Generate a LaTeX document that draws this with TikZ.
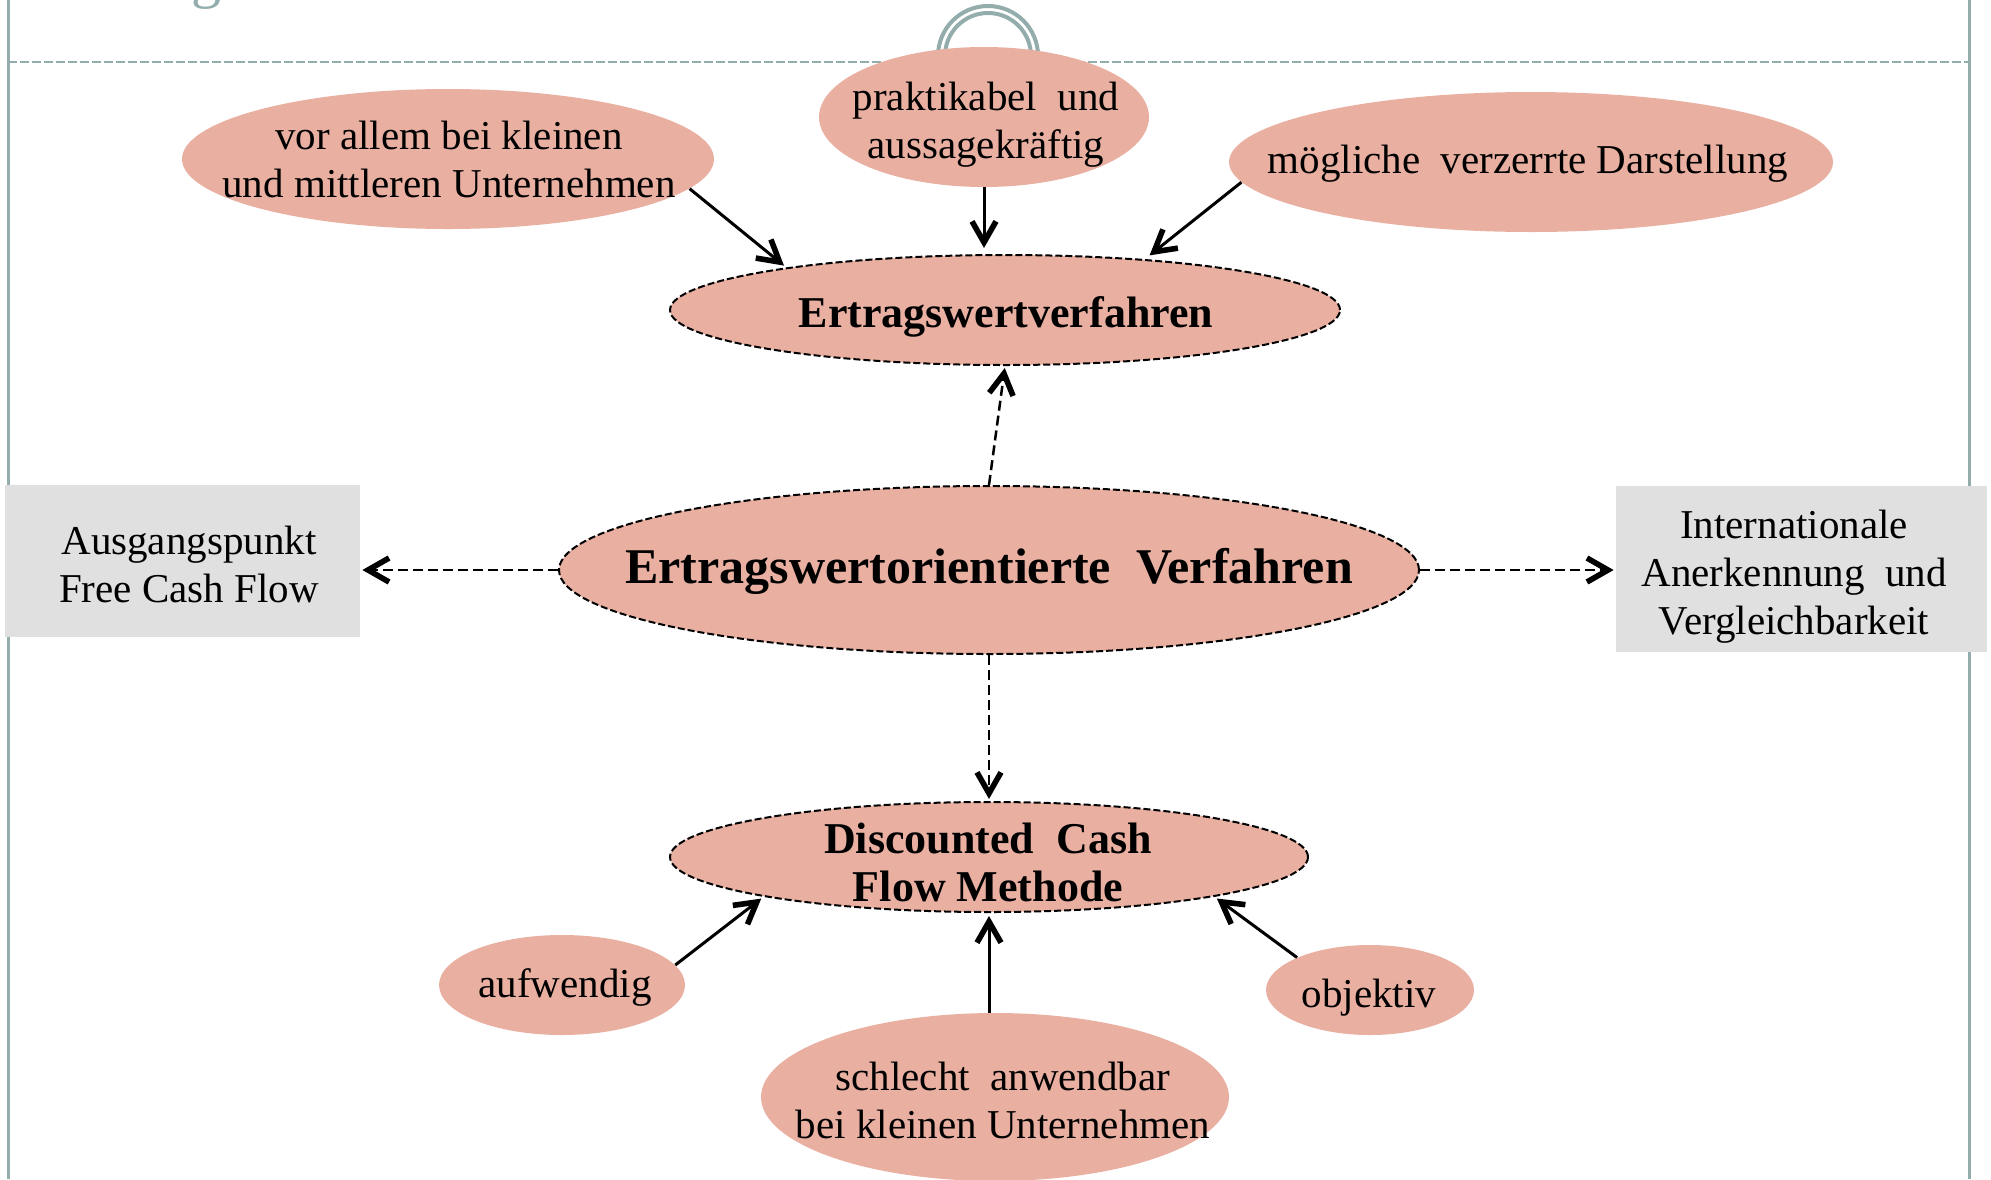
\documentclass[tikz,border=0pt]{standalone}
\usepackage{fontspec}
\setmainfont{Liberation Serif}
\usetikzlibrary{shapes.geometric,arrows.meta}
\definecolor{salmon}{RGB}{233,176,162}
\definecolor{framegrey}{RGB}{147,173,172}
\definecolor{boxgrey}{RGB}{224,224,224}
\newcommand\wsp{\hspace{0.5em}}

\begin{document}
\begin{tikzpicture}[x=0.5pt,y=-0.5pt,
  bubble/.style={ellipse, fill=salmon, inner sep=0pt},
  dashbubble/.style={bubble, draw=black, line width=1pt, dash pattern=on 3.5pt off 1.5pt},
  txt/.style={align=center, inner sep=0pt, font=\fontsize{20.5}{24}\selectfont},
  boldtxt/.style={align=center, inner sep=0pt, font=\bfseries\fontsize{22}{24}\selectfont},
  infobox/.style={rectangle, fill=boxgrey, inner sep=0pt},
  barb/.style={-{Straight Barb[length=10.5pt,width=12pt,line width=2.8pt]}},
  solidarrow/.style={barb, line width=1.5pt, shorten >=1.5pt},
  dasharrow/.style={barb, line width=1.25pt, dash pattern=on 5pt off 2.5pt, shorten >=1pt}
]
\useasboundingbox (0,0) rectangle (1991,1179);

% page frame
\draw[framegrey, line width=1.5pt] (8,0) -- (8,1179);
\draw[framegrey, line width=1.5pt] (1969,0) -- (1969,1179);
\draw[framegrey, line width=1.25pt, dash pattern=on 4.5pt off 1.5pt] (8,62) -- (1969,62);
\node[anchor=base, inner sep=0pt, text=framegrey, font=\fontsize{30}{30}\selectfont] (titleg) at (206,-4) {g};

% ring handle
\draw[framegrey, line width=2pt] (988,56) circle[radius=50];
\draw[framegrey, line width=2pt] (988,56) circle[radius=43];

% top bubbles
\node[bubble, minimum width=266pt, minimum height=70pt] (e1) at (448,159) {};
\node[txt] (e1t) at (449,159) {vor allem bei kleinen\\und mittleren Unternehmen};
\node[bubble, minimum width=165pt, minimum height=70pt] (e2) at (984,117) {};
\node[txt] (e2t) at (986,125) {praktikabel\wsp und\\aussagekräftig};
\node[bubble, minimum width=302pt, minimum height=70pt] (e3) at (1531,162) {};
\node[txt] (e3t) at (1528,164) {mögliche\wsp verzerrte Darstellung};

% main methods
\node[dashbubble, minimum width=335pt, minimum height=55pt] (ew) at (1005,310) {};
\node[boldtxt] (ewt) at (1006,317) {Ertragswertverfahren};
\node[dashbubble, minimum width=430pt, minimum height=84pt] (c) at (989,570) {};
\node[boldtxt, font=\bfseries\fontsize{25}{28}\selectfont] (ct) at (989,571) {Ertragswertorientierte\wsp Verfahren};
\node[dashbubble, minimum width=319pt, minimum height=55pt] (dcf) at (989,857) {};
\node[boldtxt] (dcft) at (988,862) {Discounted\wsp Cash\\Flow Methode};

% side boxes
\node[infobox, minimum width=177.5pt, minimum height=76pt] (lb) at (182.5,561) {};
\node[txt] (lbt) at (189,564) {Ausgangspunkt\\Free Cash Flow};
\node[infobox, minimum width=185.5pt, minimum height=83pt] (rb) at (1801.5,569) {};
\node[txt] (rbt) at (1794,577) {Internationale\\Anerkennung\wsp und\\Vergleichbarkeit};

% bottom bubbles
\node[bubble, minimum width=123pt, minimum height=50pt] (auf) at (562,985) {};
\node[txt] (auft) at (565,987) {aufwendig};
\node[bubble, minimum width=234pt, minimum height=84pt] (sch) at (995,1097) {};
\node[txt] (scht) at (1003,1100) {schlecht\wsp anwendbar\\bei kleinen Unternehmen};
\node[bubble, minimum width=104pt, minimum height=45pt] (obj) at (1370,990) {};
\node[txt] (objt) at (1369,998) {objektiv};

% connectors
\draw[solidarrow] (e1.-7) -- (ew.169);
\draw[solidarrow, shorten >=3pt] (e2.south) -- (e2.south |- ew.north);
\draw[solidarrow, shorten >=3pt] (e3.184) -- (ew.20);
\draw[dasharrow] (c.north) -- (ew.south);
\draw[dasharrow] (c.west) -- (c.west -| lb.east);
\draw[dasharrow] (c.east) -- (c.east -| rb.west);
\draw[dasharrow] (c.south) -- (dcf.north);
\draw[solidarrow] (auf.10) -- (dcf.190);
\draw[solidarrow] (dcf.south |- sch.north) -- (dcf.south);
\draw[solidarrow] (obj.156) -- (dcf.-10);
\end{tikzpicture}
\end{document}
